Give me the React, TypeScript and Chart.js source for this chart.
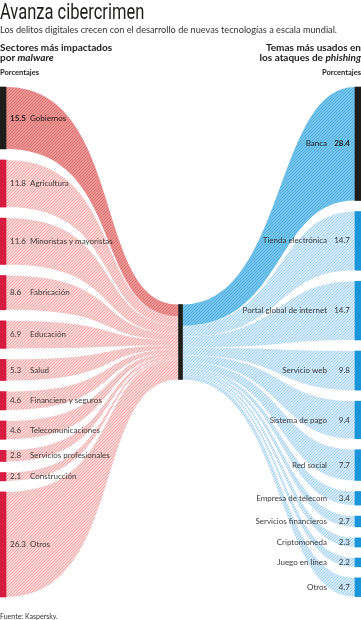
import React, { useEffect, useRef } from 'react';
import { Chart, registerables } from 'chart.js';
Chart.register(...registerables);

const leftCategories = ['Gobiernos', 'Agricultura', 'Minoristas y mayoristas', 'Fabricación', 'Educación', 'Salud', 'Financiero y seguros', 'Telecomunicaciones', 'Servicios profesionales', 'Construcción', 'Otros'];
const leftValues = [15.5, 11.8, 11.6, 8.6, 6.9, 5.3, 4.6, 4.6, 2.8, 2.1, 26.3];
const rightCategories = ['Banca', 'Tienda electrónica', 'Portal global de internet', 'Servicio web', 'Sistema de pago', 'Red social', 'Empresa de telecom', 'Servicios financieros', 'Criptomoneda', 'Juego en línea', 'Otros'];
const rightValues = [28.4, 14.7, 14.7, 9.8, 9.4, 7.7, 3.4, 2.7, 2.3, 2.2, 4.7];
const columns = ['Sectores', 'Total', 'Temas'];

const GAP = 2.75; // gap between nodes, in percent units
const CENTER_FRACTION = 0.147; // share of the axis that the 100% center node occupies

const DARK = '#1d1d1b';
const RED = '#d81b40';
const BLUE = '#1b95d9';

function stackRanges(values: number[], gap: number) {
  let s = 0;
  return values.map((v) => {
    const r: [number, number] = [s, s + v];
    s += v + gap;
    return r;
  });
}
function cumRanges(values: number[]) {
  let s = 0;
  return values.map((v) => {
    const r: [number, number] = [s, s + v];
    s += v;
    return r;
  });
}

const sum = (a: number[]) => a.reduce((p, c) => p + c, 0);
const leftRanges = stackRanges(leftValues, GAP);
const rightRanges = stackRanges(rightValues, GAP);
const leftCum = cumRanges(leftValues);
const rightCum = cumRanges(rightValues);
const axisMax = Math.max(sum(leftValues), sum(rightValues)) + GAP * (leftValues.length - 1);
const centerTotal = Math.max(sum(leftValues), sum(rightValues));
const ycSpan = centerTotal / CENTER_FRACTION;

function makeHatch(ctx: CanvasRenderingContext2D, bg: string, fg: string) {
  const n = 3;
  const c = document.createElement('canvas');
  c.width = n;
  c.height = n;
  const g = c.getContext('2d')!;
  g.fillStyle = bg;
  g.fillRect(0, 0, n, n);
  g.strokeStyle = fg;
  g.lineWidth = 0.9;
  g.beginPath();
  g.moveTo(0, n); g.lineTo(n, 0);
  g.moveTo(-1, 1); g.lineTo(1, -1);
  g.moveTo(n - 1, n + 1); g.lineTo(n + 1, n - 1);
  g.stroke();
  return ctx.createPattern(c, 'repeat')!;
}

function band(ctx: CanvasRenderingContext2D, x0: number, t0: number, b0: number, x1: number, t1: number, b1: number, a: number, b: number) {
  const dx = x1 - x0;
  ctx.beginPath();
  ctx.moveTo(x0, t0);
  ctx.bezierCurveTo(x0 + a * dx, t0, x0 + b * dx, t1, x1, t1);
  ctx.lineTo(x1, b1);
  ctx.bezierCurveTo(x0 + b * dx, b1, x0 + a * dx, b0, x0, b0);
  ctx.closePath();
  ctx.fill();
}

const flowPlugin = {
  id: 'flows',
  beforeDatasetsDraw(chart: any) {
    const { ctx, scales } = chart;
    const x = scales.x, y = scales.y, yc = scales.yc;
    const xL = x.getPixelForValue(0) + 3;
    const xC = x.getPixelForValue(1);
    const xR = x.getPixelForValue(2) - 3;
    const pRedHi = makeHatch(ctx, '#ec9393', '#dc7272');
    const pRed = makeHatch(ctx, '#f8d6d5', '#eca3a3');
    const pBlueHi = makeHatch(ctx, '#74c3ea', '#50b0e2');
    const pBlue = makeHatch(ctx, '#d6eaf8', '#9ccef0');
    ctx.save();
    for (let i = leftValues.length - 1; i >= 0; i--) {
      ctx.fillStyle = i === 0 ? pRedHi : pRed;
      band(ctx, xL, y.getPixelForValue(leftRanges[i][0]), y.getPixelForValue(leftRanges[i][1]),
        xC - 2, yc.getPixelForValue(leftCum[i][0]), yc.getPixelForValue(leftCum[i][1]), 0.7, 0.5);
    }
    for (let i = rightValues.length - 1; i >= 0; i--) {
      ctx.fillStyle = i === 0 ? pBlueHi : pBlue;
      band(ctx, xC + 2, yc.getPixelForValue(rightCum[i][0]), yc.getPixelForValue(rightCum[i][1]),
        xR, y.getPixelForValue(rightRanges[i][0]), y.getPixelForValue(rightRanges[i][1]), 0.6, 0.53);
    }
    ctx.restore();
  },
  afterDatasetsDraw(chart: any) {
    const { ctx, scales } = chart;
    const y = scales.y;
    ctx.save();
    ctx.textBaseline = 'middle';
    leftValues.forEach((v, i) => {
      const ym = y.getPixelForValue((leftRanges[i][0] + leftRanges[i][1]) / 2);
      const hi = i === 0;
      ctx.fillStyle = hi ? '#1d1d1b' : '#3c3c3c';
      ctx.textAlign = 'left';
      ctx.font = (hi ? 'bold ' : '') + '8px Lato';
      ctx.fillText(v.toFixed(1), 10, ym);
      ctx.font = '8px Lato';
      ctx.fillText(leftCategories[i], 30, ym);
    });
    rightValues.forEach((v, i) => {
      const ym = y.getPixelForValue((rightRanges[i][0] + rightRanges[i][1]) / 2);
      const hi = i === 0;
      ctx.fillStyle = hi ? '#1d1d1b' : '#3c3c3c';
      ctx.textAlign = 'right';
      ctx.font = (hi ? 'bold ' : '') + '8px Lato';
      ctx.fillText(v.toFixed(1), 350, ym);
      ctx.font = '8px Lato';
      ctx.fillText(rightCategories[i], 327, ym);
    });
    ctx.restore();
  },
};

export default function App() {
  const ref = useRef<HTMLCanvasElement>(null);
  useEffect(() => {
    const datasets: any[] = [];
    leftValues.forEach((v, i) => {
      datasets.push({
        label: leftCategories[i],
        data: [leftRanges[i], null, null],
        backgroundColor: i === 0 ? DARK : RED,
        barThickness: 6,
        yAxisID: 'y',
        grouped: false,
        clip: false,
      });
    });
    datasets.push({
      label: 'Total',
      data: [null, [0, centerTotal], null],
      backgroundColor: DARK,
      barThickness: 4,
      yAxisID: 'yc',
      grouped: false,
      clip: false,
    });
    rightValues.forEach((v, i) => {
      datasets.push({
        label: rightCategories[i],
        data: [null, null, rightRanges[i]],
        backgroundColor: i === 0 ? DARK : BLUE,
        barThickness: 6,
        yAxisID: 'y',
        grouped: false,
        clip: false,
      });
    });
    const chart = new Chart(ref.current!, {
      type: 'bar',
      data: { labels: columns, datasets },
      options: {
        animation: false,
        responsive: false,
        devicePixelRatio: 1,
        layout: { padding: { left: 3, right: 3, top: 87, bottom: 23 } },
        plugins: { legend: { display: false }, tooltip: { enabled: false } },
        scales: {
          x: { type: 'category', display: false, offset: false, grid: { offset: false } },
          y: { type: 'linear', display: false, min: 0, max: axisMax, reverse: true },
          yc: { type: 'linear', display: false, min: centerTotal / 2 - ycSpan / 2, max: centerTotal / 2 + ycSpan / 2, reverse: true },
        },
      } as any,
      plugins: [flowPlugin],
    });
    return () => chart.destroy();
  }, []);

  const txt = { position: 'absolute' as const, fontFamily: 'Lato, sans-serif', color: '#222', whiteSpace: 'nowrap' as const };
  return (
    <div style={{ position: 'fixed', left: 0, top: 0, width: 361, height: 620, background: '#fff', overflow: 'hidden' }}>
      <canvas ref={ref} width={361} height={620} style={{ position: 'absolute', left: 0, top: 0 }} />
      <div style={{ ...txt, left: 0, top: 1, fontFamily: 'Roboto, sans-serif', fontSize: 22, lineHeight: '22px', transform: 'scaleX(0.75)', transformOrigin: '0 0', color: '#1d1d1b' }}>Avanza cibercrimen</div>
      <div style={{ ...txt, left: 0, top: 24, fontSize: 9.2, lineHeight: '11px', color: '#333' }}>Los delitos digitales crecen con el desarrollo de nuevas tecnologías a escala mundial.</div>
      <div style={{ ...txt, left: 0, top: 42, fontSize: 10, lineHeight: '10px', fontWeight: 700 }}>Sectores más impactados<br />por <i>malware</i></div>
      <div style={{ ...txt, left: 0, top: 68, fontSize: 7.5, fontWeight: 700 }}>Porcentajes</div>
      <div style={{ ...txt, right: 0, top: 42, fontSize: 10, lineHeight: '10px', fontWeight: 700, textAlign: 'right' }}>Temas más usados en<br />los ataques de <i>phishing</i></div>
      <div style={{ ...txt, right: 0, top: 68, fontSize: 7.5, fontWeight: 700, textAlign: 'right' }}>Porcentajes</div>
      <div style={{ ...txt, left: 0, top: 612, fontSize: 7, color: '#333' }}>Fuente: Kaspersky.</div>
    </div>
  );
}
